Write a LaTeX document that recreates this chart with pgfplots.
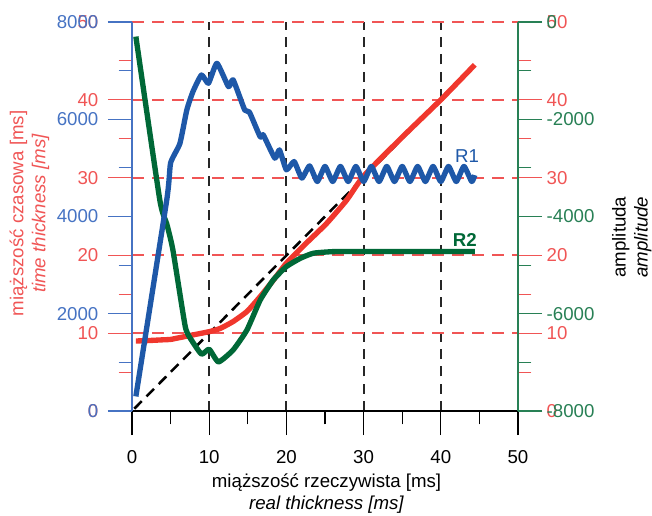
\documentclass[border=0pt]{standalone}
\usepackage{fontspec}
\setmainfont{Liberation Sans}
\usepackage{pgfplots}
\pgfplotsset{compat=1.18}
\definecolor{cBlue}{RGB}{30,88,168}
\definecolor{cBlueAx}{RGB}{70,115,195}
\definecolor{cRed}{RGB}{240,55,45}
\definecolor{cRedAx}{RGB}{240,85,85}
\definecolor{cGreen}{RGB}{0,104,55}
\definecolor{cGreenAx}{RGB}{40,128,85}
\pgfplotsset{
  base/.style={
    scale only axis, width=289.5pt, height=291.75pt,
    xmin=0, xmax=50, clip=false,
    tick align=outside,
    major tick length=18pt, minor tick length=10pt,
    /pgf/number format/assume math mode=true,
    /pgf/number format/1000 sep={},
    tick label style={font=\fontsize{14}{16}\selectfont},
    label style={font=\fontsize{14}{16.5}\selectfont},
  }
}
\begin{document}
\begin{tikzpicture}
\useasboundingbox (-99pt,-78pt) rectangle (390pt,308.25pt);
% grid lines
\begin{axis}[base,
  ymin=0, ymax=50,
  axis line style={draw=none},
  xtick={10,20,30,40}, ytick={10,20,30,40,50},
  xticklabels={}, yticklabels={},
  tick style={draw=none},
  xmajorgrids, ymajorgrids,
  major y grid style={cRedAx, line width=1.4pt, dash pattern=on 9pt off 6pt},
  major x grid style={black!85, line width=1.6pt, dash pattern=on 7.5pt off 5.5pt},
]
\end{axis}
% red left axis, x axis
\begin{axis}[base,
  ymin=0, ymax=50,
  axis x line*=bottom, axis y line*=left,
  y axis line style={draw=none},
  x axis line style={black, line width=0.8pt, -},
  xtick={0,10,...,50}, minor x tick num=1,
  ytick={0,10,...,50}, minor y tick num=1,
  xtick style={black, line width=0.8pt},
  ytick style={cRedAx, line width=0.8pt},
  xticklabel style={yshift=-8pt},
  yticklabel style={text=cRedAx, xshift=-3.75pt},
  xlabel={miąższość rzeczywista [ms]\\\textit{real thickness [ms]}},
  xlabel style={align=center, at={(rel axis cs:0.504,-0.2134)}, anchor=center},
  ylabel={miąższość czasowa [ms]\\\textit{time thickness [ms]}},
  ylabel style={align=center, text=cRedAx, at={(rel axis cs:-0.2655,0.508)}, anchor=center},
]
\addplot[black, line width=1.9pt, dash pattern=on 8pt off 5pt] coordinates {(0.3,0.3) (44.4,44.4)};
\addplot[cRed, line width=4pt, line join=round, smooth, tension=0.3] coordinates {
(0.5,9.0) (2,9.05) (4,9.15) (5,9.2) (6,9.4) (8,9.8) (10,10.2) (11.4,10.6)
(13.1,11.5) (14.9,12.8) (16.6,14.7) (18.3,16.8) (20,19.0) (22.6,21.6)
(25.2,24.1) (27.8,27.1) (30,30.2) (35,35.2) (40,40.0) (44.4,44.5)};
\node[text=cBlue, font=\fontsize{14}{16}\selectfont] at (axis cs:43.4,32.8) {R1};
\node[text=cGreen, font=\fontsize{14}{16}\selectfont\bfseries] at (axis cs:43.1,22.0) {R2};
\end{axis}
% red right axis
\begin{axis}[base,
  ymin=0, ymax=50,
  hide x axis, axis y line*=right,
  y axis line style={draw=none},
  ytick={0,10,...,50}, minor y tick num=1,
  ytick style={cRedAx, line width=0.8pt},
  yticklabel style={text=cRedAx},
]
\end{axis}
% green right axis
\begin{axis}[base,
  ymin=-8000, ymax=0,
  hide x axis, axis y line*=right,
  y axis line style={cGreenAx, line width=0.8pt, -},
  ytick={-8000,-6000,...,0}, minor y tick num=1,
  ytick style={cGreenAx, line width=0.8pt},
  yticklabel style={text=cGreenAx},
  ylabel={amplituda\\\textit{amplitude}},
  ylabel style={align=center, text=black, at={(rel axis cs:1.295,0.447)}, anchor=center},
]
\addplot[cGreen, line width=4pt, line join=round, smooth, tension=0.3] coordinates {
(0.5,-300) (3.6,-3660) (4.5,-4150) (5.3,-4690) (6.9,-6265) (7.7,-6540)
(9.0,-6830) (10.0,-6730) (11.2,-6990) (13.1,-6745) (14.9,-6330) (16.6,-5720)
(18.3,-5305) (20.0,-5030) (21.8,-4860) (23.5,-4755) (26.1,-4722) (30,-4720)
(44.4,-4720)};
\end{axis}
% blue left axis
\begin{axis}[base,
  ymin=0, ymax=8000,
  hide x axis, axis y line*=left,
  y axis line style={cBlueAx, line width=0.8pt, -},
  ytick={0,2000,...,8000}, minor y tick num=1,
  ytick style={cBlueAx, line width=0.8pt},
  yticklabel style={text=cBlueAx, xshift=-3.75pt},
]
\addplot[cBlue, line width=4pt, line join=round, smooth, tension=0.3] coordinates {
(0.5,300) (4.5,4340) (5.0,5100) (6.2,5500) (7.1,6190) (7.9,6570) (9.0,6910)
(9.9,6740) (11.0,7150) (12.5,6670) (13.1,6810) (14.6,6190) (15.2,6150)
(16.6,5640) (17.0,5680) (18.5,5200) (19.1,5370) (20.0,4960) (21,5130)
(22,4790) (23,5040) (24,4720) (25,5030) (26,4720) (27,5030) (28,4720)
(29,5030) (30,4720) (31,5030) (32,4720) (33,5030) (34,4720) (35,5030)
(36,4720) (37,5030) (38,4720) (39,5030) (40,4720) (41,5030) (42,4720)
(43,5030) (44,4720) (44.4,4850)};
\end{axis}
\end{tikzpicture}
\end{document}
